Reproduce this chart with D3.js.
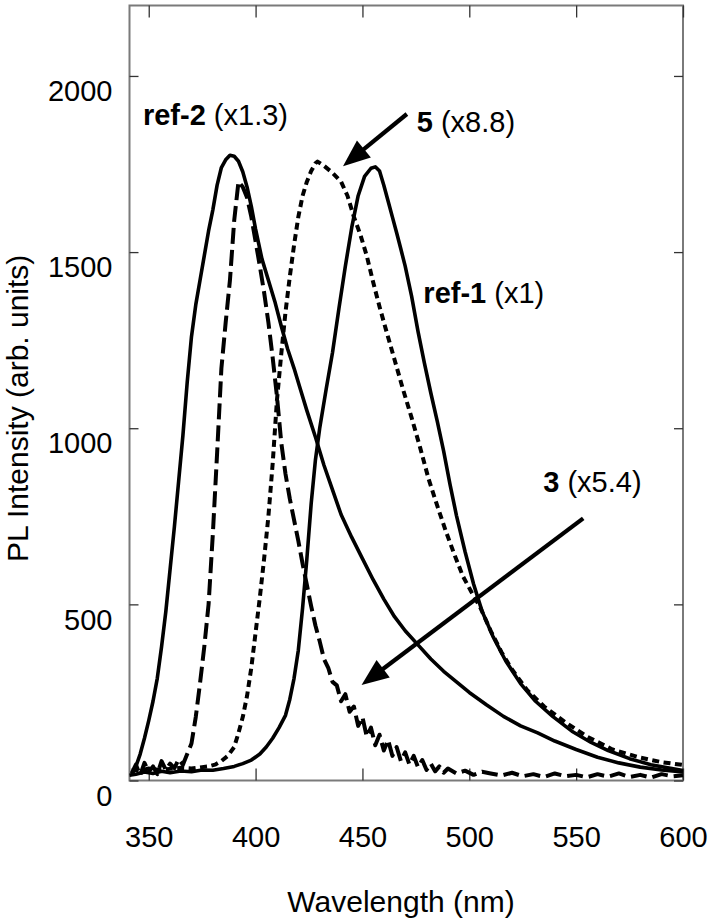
<!DOCTYPE html>
<html lang="en">
<head>
<meta charset="utf-8">
<title>PL spectra</title>
<script src="https://d3js.org/d3.v7.min.js"></script>
<style>
  body { margin: 0; background: #fff; }
  text { font-family: "Liberation Sans", Arial, sans-serif; fill: #000; }
</style>
</head>
<body>
<script>
// ---- data ----
const xTicks = [350, 400, 450, 500, 550, 600];
const yTicks = [0, 500, 1000, 1500, 2000];

// ref-2 (x1.3), solid
const ref2Wl  = [342,344,346,348,350,352,354,356,358,360,362,364,366,368,370,372,374,376,378,380,382,384,386,388,390,392,394,396,398,400,403,406,409,412,415,418,421,424,428,432,436,440,445,450,455,460,465,470,476,482,488,494,500,508,516,524,532,540,550,560,570,580,590,600];
const ref2Val = [15,40,75,120,170,225,290,380,480,600,720,850,980,1130,1260,1350,1420,1490,1560,1620,1690,1740,1762,1775,1772,1758,1728,1685,1630,1565,1480,1420,1360,1290,1225,1170,1110,1050,975,895,825,755,690,630,570,515,465,425,385,345,310,280,250,215,182,155,135,112,88,66,50,38,30,24];

// ref-1 (x1), solid
const ref1Wl  = [341,344,348,352,356,360,365,370,375,380,385,390,394,398,402,405,408,411,414,416,418,420,422,424,426,428,430,433,436,439,442,445,448,451,454,456,458,460,462,464,466,468,470,473,476,479,482,485,488,491,494,498,502,506,511,517,524,531,539,548,557,565,575,585,600];
const ref1Val = [15,18,24,20,26,22,27,25,30,29,34,40,48,58,75,95,120,150,185,230,290,370,490,630,785,910,1000,1110,1215,1340,1460,1570,1660,1715,1738,1742,1730,1690,1645,1600,1555,1508,1460,1375,1275,1185,1100,1020,935,840,752,650,558,480,410,340,275,225,182,140,108,85,62,45,28];

// 5 (x8.8), dotted
const s5Wl  = [342,346,350,355,360,365,370,375,378,381,384,387,390,392,394,396,398,400,402,404,406,408,410,412,414,416,418,420,422,424,426,428,429,432,436,440,443,446,449,452,455,458,461,465,469,473,477,481,485,489,493,497,501,505,510,515,520,527,535,545,555,567,580,590,600];
const s5Val = [30,28,34,30,33,36,34,38,40,45,55,70,95,135,180,240,320,420,520,630,750,900,1080,1210,1330,1430,1520,1600,1660,1700,1730,1752,1757,1745,1725,1700,1660,1600,1550,1490,1415,1345,1280,1195,1110,1030,945,855,780,708,642,580,535,493,425,365,315,257,210,165,125,88,65,52,44];

// 3 (x5.4), dashed, noisy
const s3Wl  = [342,344,346,348,350,352,354,356,358,360,362,364,366,368,370,372,374,376,378,380,382,384,386,388,390,392,394,396,398,400,402,404,406,408,410,412,414,416,418,420,422,424,426,428,430,432,434,436,438,440,442,444,446,448,450,452,454,456,458,460,462,464,466,468,470,472,474,476,478,480,482,484,486,488,490,494,498,502,506,510,515,520,525,530,535,540,545,550,555,560,565,570,575,580,585,590,595,600];
const s3Val = [20,45,15,50,25,40,18,55,30,48,35,60,45,75,105,180,276,380,500,700,930,1170,1300,1420,1590,1700,1685,1655,1600,1530,1460,1385,1300,1200,1090,960,870,800,740,680,615,555,495,440,395,345,320,280,270,225,245,195,210,155,180,125,150,100,130,85,115,70,95,55,80,45,70,38,58,30,48,26,40,22,34,20,28,16,25,20,14,22,12,18,10,20,12,16,9,18,11,20,10,16,8,18,12,15,10,17];

const labels = [
  { bold: "ref-2", rest: " (x1.3)", wl: 347.3, v: 1861 },
  { bold: "5",     rest: " (x8.8)", wl: 475.4, v: 1841 },
  { bold: "ref-1", rest: " (x1)",   wl: 478.5, v: 1355 },
  { bold: "3",     rest: " (x5.4)", wl: 534.6, v: 820 }
];
const arrows = [
  { from: [470.8, 1892], to: [440.9, 1744] },
  { from: [553.3, 744],  to: [449.6, 271] }
];

// ---- layout ----
const w = 710, h = 923;
const padL = 129.5, padR = 683, padT = 5.5, padB = 780.5;
const fontSize = 29;

const svg = d3.select("body").append("svg")
  .attr("width", w).attr("height", h);

const x = d3.scaleLinear().domain([341, 600]).range([padL, padR]);
const y = d3.scaleLinear().domain([0, 2200]).range([padB, padT]);

// frame
svg.append("rect")
  .attr("x", padL).attr("y", padT)
  .attr("width", padR - padL).attr("height", padB - padT)
  .attr("fill", "none").attr("stroke", "#7a7a7a").attr("stroke-width", 2);

// inner ticks on all four sides
function ticksOnly(g) {
  g.select(".domain").remove();
  g.selectAll("text").remove();
  g.selectAll("line").attr("stroke", "#333").attr("stroke-width", 1.3);
}
svg.append("g").attr("transform", `translate(0,${padB})`)
  .call(d3.axisTop(x).tickValues(xTicks).tickSize(12)).call(ticksOnly);
svg.append("g").attr("transform", `translate(0,${padT})`)
  .call(d3.axisBottom(x).tickValues(xTicks).tickSize(12)).call(ticksOnly);
svg.append("g").attr("transform", `translate(${padL},0)`)
  .call(d3.axisRight(y).tickValues(yTicks).tickSize(9)).call(ticksOnly);
svg.append("g").attr("transform", `translate(${padR},0)`)
  .call(d3.axisLeft(y).tickValues(yTicks).tickSize(9)).call(ticksOnly);

// tick labels
const xAxis = svg.append("g").attr("transform", `translate(0,${padB})`)
  .call(d3.axisBottom(x).tickValues(xTicks).tickSize(0).tickPadding(0).tickFormat(d3.format("d")));
xAxis.select(".domain").remove();
xAxis.selectAll("text")
  .attr("y", 66).attr("dy", 0)
  .style("font-size", fontSize + "px")
  .style("font-family", "Liberation Sans, Arial, sans-serif");

const yAxis = svg.append("g").attr("transform", `translate(${padL},0)`)
  .call(d3.axisLeft(y).tickValues(yTicks).tickSize(0).tickPadding(17).tickFormat(d3.format("d")));
yAxis.select(".domain").remove();
yAxis.selectAll("text")
  .attr("dy", "0.85em")
  .style("font-size", fontSize + "px")
  .style("font-family", "Liberation Sans, Arial, sans-serif");

// axis titles
svg.append("text")
  .attr("x", 401).attr("y", 912)
  .attr("text-anchor", "middle")
  .style("font-size", "30px")
  .text("Wavelength (nm)");

svg.append("text")
  .attr("transform", "translate(28,562) rotate(-90)")
  .attr("text-anchor", "start")
  .style("font-size", "30px")
  .text("PL Intensity (arb. units)");

// curves
const line = d3.line().x(d => x(d[0])).y(d => y(d[1]));
const series = [
  { wl: ref2Wl, val: ref2Val, dash: null },
  { wl: ref1Wl, val: ref1Val, dash: null },
  { wl: s5Wl,   val: s5Val,   dash: "7,4.5" },
  { wl: s3Wl,   val: s3Val,   dash: "16,6" }
];
const plot = svg.append("g");
series.forEach(s => {
  plot.append("path")
    .datum(s.wl.map((d, i) => [d, s.val[i]]))
    .attr("d", line)
    .attr("fill", "none")
    .attr("stroke", "#000")
    .attr("stroke-width", s.dash ? 4 : 3.6)
    .attr("stroke-linejoin", "round")
    .attr("stroke-dasharray", s.dash);
});

// arrows
arrows.forEach(a => {
  const x0 = x(a.from[0]), y0 = y(a.from[1]);
  const x1 = x(a.to[0]), y1 = y(a.to[1]);
  const len = Math.hypot(x1 - x0, y1 - y0);
  const ux = (x1 - x0) / len, uy = (y1 - y0) / len;
  const headL = 27, headW = 11;
  const bx = x1 - ux * headL, by = y1 - uy * headL;
  svg.append("line")
    .attr("x1", x0).attr("y1", y0).attr("x2", bx + ux * 2).attr("y2", by + uy * 2)
    .attr("stroke", "#000").attr("stroke-width", 4.2);
  svg.append("polygon")
    .attr("points", [[x1, y1], [bx - uy * headW, by + ux * headW], [bx + uy * headW, by - ux * headW]].join(" "))
    .attr("fill", "#000");
});

// labels
labels.forEach(l => {
  const t = svg.append("text")
    .attr("x", x(l.wl)).attr("y", y(l.v))
    .style("font-size", fontSize + "px");
  t.append("tspan").attr("font-weight", "bold").text(l.bold);
  t.append("tspan").text(l.rest);
});
</script>
</body>
</html>
